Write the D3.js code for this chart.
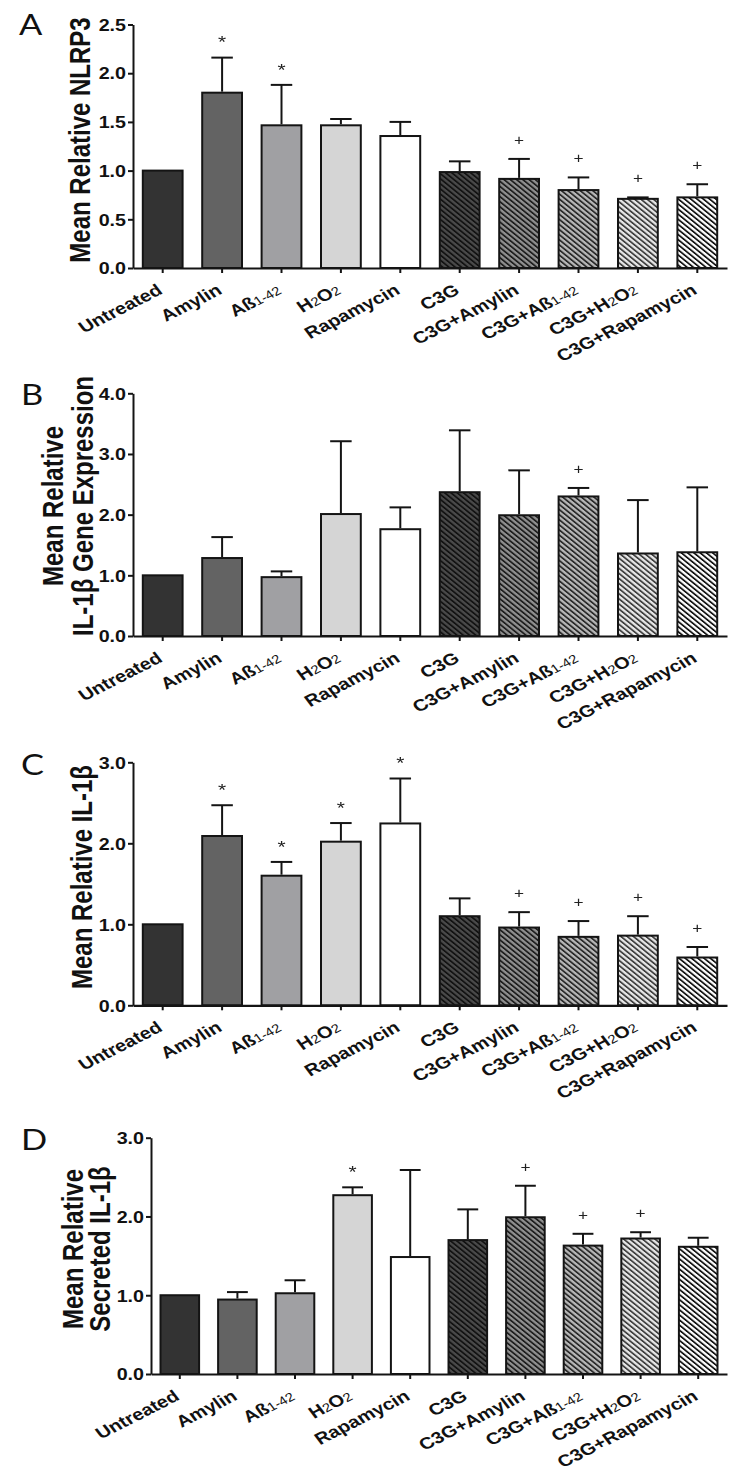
<!DOCTYPE html>
<html><head><meta charset="utf-8">
<script src="https://cdn.jsdelivr.net/npm/d3@7"></script>
<style>
body{margin:0;background:#fff}
svg{display:block}
text{font-family:"Liberation Sans",Arial,sans-serif;fill:#111}
</style>
</head><body>
<svg id="c" width="733" height="1475"></svg>
<script>
// ---------------- data ----------------
const categories = ["Untreated","Amylin","Aß1-42","H2O2","Rapamycin","C3G","C3G+Amylin","C3G+Aß1-42","C3G+H2O2","C3G+Rapamycin"];

const nlrp3Mean  = [1.00, 1.80, 1.465, 1.465, 1.355, 0.985, 0.915, 0.80, 0.71, 0.725];
const nlrp3Sem   = [0.00, 0.36, 0.415, 0.065, 0.145, 0.11, 0.205, 0.13, 0.015, 0.135];
const nlrp3Marks = ["", "*", "*", "", "", "", "+", "+", "+", "+"];
const nlrp3Ticks = [0, 0.5, 1.0, 1.5, 2.0, 2.5];

const geneMean  = [1.00, 1.285, 0.97, 2.01, 1.76, 2.37, 1.99, 2.30, 1.36, 1.38];
const geneSem   = [0.00, 0.345, 0.095, 1.20, 0.36, 1.02, 0.74, 0.14, 0.88, 1.07];
const geneMarks = ["", "", "", "", "", "", "", "+", "", ""];
const geneTicks = [0, 1, 2, 3, 4];

const il1bMean  = [1.00, 2.09, 1.60, 2.02, 2.245, 1.10, 0.96, 0.845, 0.86, 0.59];
const il1bSem   = [0.00, 0.38, 0.17, 0.23, 0.555, 0.22, 0.19, 0.195, 0.24, 0.13];
const il1bMarks = ["", "*", "*", "*", "*", "", "+", "+", "+", "+"];
const il1bTicks = [0, 1, 2, 3];

const secMean  = [1.00, 0.945, 1.025, 2.27, 1.485, 1.70, 1.99, 1.63, 1.72, 1.615];
const secSem   = [0.00, 0.095, 0.165, 0.10, 1.105, 0.39, 0.40, 0.15, 0.08, 0.115];
const secMarks = ["", "", "", "*", "", "", "+", "+", "+", ""];
const secTicks = [0, 1, 2, 3];

// ---------------- styles ----------------
const SX = 1.23; // horizontal stretch of the original figure
const solidFills = ["#333333", "#636363", "#a0a0a3", "#d5d5d5", "#ffffff"];
const hatchBg    = ["#4a4a4a", "#909090", "#b8b8b8", "#e8e8e8", "#ffffff"];
const hatchLine  = ["#121212", "#1e1e1e", "#2a2a2a", "#404040", "#141414"];

const svg = d3.select("#c");
const defs = svg.append("defs");
hatchBg.forEach((bg, i) => {
  const P = 3.6;
  const p = defs.append("pattern").attr("id", "h" + i)
    .attr("patternUnits", "userSpaceOnUse")
    .attr("width", P).attr("height", P)
    .attr("patternTransform", `scale(${SX},1) rotate(-45)`);
  p.append("rect").attr("width", P).attr("height", P).attr("fill", bg);
  p.append("rect").attr("x", 0).attr("width", 1.6).attr("height", P).attr("fill", hatchLine[i]);
});
// grayscale pass for small marks (avoids coloured sub-pixel fringes)
defs.append("filter").attr("id", "gray").attr("x", "-50%").attr("y", "-50%").attr("width", "200%").attr("height", "200%")
  .append("feColorMatrix").attr("type", "saturate").attr("values", 0);
const fillFor = i => i < 5 ? solidFills[i] : `url(#h${i - 5})`;

const panels = [
  {letter: "A", mean: nlrp3Mean, sem: nlrp3Sem, marks: nlrp3Marks, ticks: nlrp3Ticks, max: 2.5,
   x0: 133, x1: 727, y0: 268, y1: 24.5, title: ["Mean Relative NLRP3"], tx: [90], ty: 140, lp: [19, 35]},
  {letter: "B", mean: geneMean, sem: geneSem, marks: geneMarks, ticks: geneTicks, max: 4,
   x0: 133, x1: 727, y0: 636, y1: 393.3, title: ["Mean Relative", "IL-1β Gene Expression"], tx: [63, 93], ty: 506, lp: [21, 405]},
  {letter: "C", mean: il1bMean, sem: il1bSem, marks: il1bMarks, ticks: il1bTicks, max: 3,
   x0: 133, x1: 727, y0: 1005.3, y1: 762.3, title: ["Mean Relative IL-1β"], tx: [92], ty: 877, lp: [21, 775]},
  {letter: "D", mean: secMean, sem: secSem, marks: secMarks, ticks: secTicks, max: 3,
   x0: 151, x1: 727, y0: 1374, y1: 1137.7, title: ["Mean Relative", "Secreted IL-1β"], tx: [83, 110], ty: 1249, lp: [21, 1150]}
];

function labelParts(s) {
  return s.split(/(1-42|2)/).filter(t => t !== "").map(t => ({t, sub: t === "1-42" || t === "2"}));
}

panels.forEach(pn => {
  const g = svg.append("g");
  const x = d3.scaleBand().domain(categories).range([pn.x0, pn.x1]).paddingInner(0.33).paddingOuter(0.165);
  const y = d3.scaleLinear().domain([0, pn.max]).range([pn.y0, pn.y1]);
  const bw = x.bandwidth();

  // bars
  g.selectAll("rect.bar").data(categories).join("rect")
    .attr("x", d => x(d)).attr("width", bw)
    .attr("y", (d, i) => y(pn.mean[i]))
    .attr("height", (d, i) => pn.y0 - y(pn.mean[i]))
    .attr("fill", (d, i) => fillFor(i))
    .attr("stroke", "#141414").attr("stroke-width", 2);

  // error bars
  categories.forEach((c, i) => {
    if (pn.sem[i] <= 0) return;
    const cx = x(c) + bw / 2, top = y(pn.mean[i] + pn.sem[i]);
    g.append("line").attr("x1", cx).attr("x2", cx).attr("y1", y(pn.mean[i]) - 1).attr("y2", top)
      .attr("stroke", "#141414").attr("stroke-width", 2);
    g.append("line").attr("x1", cx - bw * 0.27).attr("x2", cx + bw * 0.27).attr("y1", top).attr("y2", top)
      .attr("stroke", "#141414").attr("stroke-width", 2);
  });

  // significance marks
  const mg = g.append("g").attr("filter", "url(#gray)");
  categories.forEach((c, i) => {
    const m = pn.marks[i];
    if (!m) return;
    const cx = x(c) + bw / 2;
    const fs = m === "*" ? 17 : 14;
    const centerY = y(pn.mean[i] + pn.sem[i]) - 19;
    const base = centerY + (m === "*" ? 0.58 : 0.34) * fs;
    mg.append("text").attr("transform", `translate(${cx},${base}) scale(${SX},1)`)
      .attr("text-anchor", "middle").attr("font-size", fs)
      .style("fill", "#222")
      .text(m);
  });

  // y axis
  const ya = g.append("g").attr("transform", `translate(${pn.x0},0)`)
    .call(d3.axisLeft(y).tickValues(pn.ticks).tickSize(5).tickSizeOuter(0).tickFormat(d3.format(".1f")));
  ya.select(".domain").attr("stroke", "#141414").attr("stroke-width", 2);
  ya.selectAll(".tick line").attr("stroke", "#141414").attr("stroke-width", 2);
  ya.selectAll(".tick text").attr("x", -7 / SX).attr("dy", "0.36em")
    .attr("transform", `scale(${SX},1)`)
    .attr("font-weight", "bold").attr("font-size", 16);

  // x axis
  const xa = g.append("g").attr("transform", `translate(0,${pn.y0})`)
    .call(d3.axisBottom(x).tickSize(5).tickSizeOuter(0));
  xa.select(".domain").attr("stroke", "#141414").attr("stroke-width", 2.2);
  xa.selectAll(".tick line").attr("stroke", "#141414").attr("stroke-width", 2);
  xa.selectAll(".tick text").each(function(d) {
    const t = d3.select(this);
    t.text(null).attr("x", null).attr("y", null).attr("dy", null)
      .attr("text-anchor", "end")
      .attr("transform", `translate(1,25) scale(${SX},1) rotate(-32)`)
      .attr("font-weight", "bold").attr("font-size", 16.4);
    labelParts(d).forEach(p => {
      const ts = t.append("tspan").text(p.t);
      if (p.sub) ts.attr("font-size", 12).attr("font-weight", "normal");
    });
  });

  // y title
  pn.title.forEach((line, k) => {
    g.append("text")
      .attr("transform", `translate(${pn.tx[k]},${pn.ty}) scale(${SX},1) rotate(-90)`)
      .attr("text-anchor", "middle").attr("font-weight", "bold").attr("font-size", 24)
      .text(line);
  });

  // panel letter
  g.append("text").attr("transform", `translate(${pn.lp[0]},${pn.lp[1]}) scale(${SX},1)`)
    .attr("font-size", 28)
    .style("font-family", "Lato, 'Open Sans', sans-serif")
    .text(pn.letter);
});
</script>
</body></html>
